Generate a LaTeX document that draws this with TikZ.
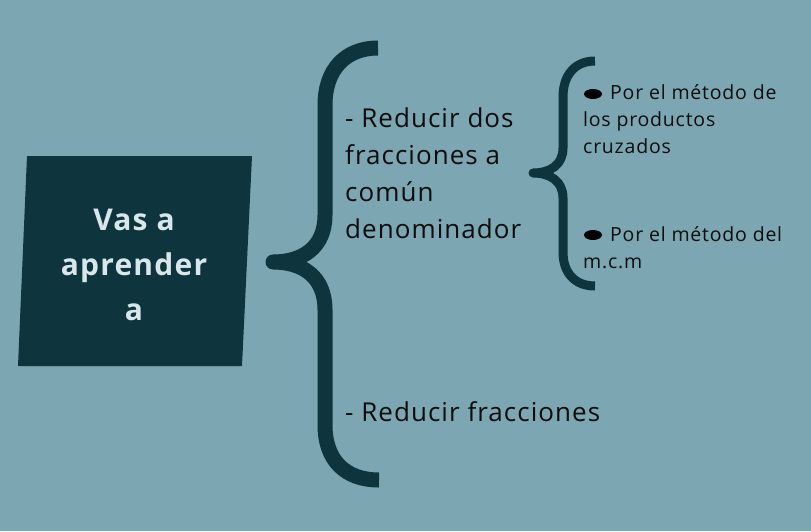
\documentclass[tikz,border=0pt]{standalone}
\usepackage{fontspec}
\setmainfont{Open Sans}[LetterSpace=4]
\newfontfamily\titfont{Open Sans}[LetterSpace=4]
\definecolor{fondo}{HTML}{7BA6B2}
\definecolor{oscuro}{HTML}{0E343D}
\definecolor{claro}{HTML}{D8E7EB}
\begin{document}
\begin{tikzpicture}[x=1pt, y=-1pt, line join=round,
  llave/.style={draw=oscuro, line cap=butt, line join=round},
  titulo/.style={font=\titfont\fontsize{30}{45}\selectfont\bfseries, align=center, inner sep=0pt, text=claro},
  grande/.style={font=\fontsize{26}{37}\selectfont, align=left, inner sep=0pt, text=black!95},
  chico/.style={font=\fontsize{19.5}{27}\selectfont, align=left, inner sep=0pt, text=black!95}]
			\fill[fondo] (0,0) rectangle (811,531);
			\useasboundingbox (0,0) rectangle (811,531);
			\fill[oscuro] (27,156)--(252,156)--(242,366)--(18,366)--cycle;
			\node[titulo, anchor=base] (tit) at (134,320) {Vas a\\aprender\\a};
			\draw[llave, line width=15pt] (378,48) .. controls (345,48) and (325,70) .. (325,105) -- (325,215)
				.. controls (325,248) and (302,262) .. (273,262) .. controls (302,262) and (325,276) .. (325,310)
				-- (325,425) .. controls (325,460) and (345,480) .. (379,480);
			\draw[llave, line width=9pt] (595,61) .. controls (575,61) and (563,75) .. (563,97) -- (563,148)
				.. controls (563,165) and (550,173) .. (533,173) .. controls (550,173) and (563,181) .. (563,198)
				-- (563,252) .. controls (563,273) and (575,286) .. (595,286);
			\node[grande, anchor=base west] (red1) at (345,238) {- Reducir dos\\fracciones a\\común\\denominador};
			\node[grande, anchor=base west] (red2) at (345,421) {- Reducir fracciones};
			\node[chico, anchor=base west] (met1) at (583,153) {\hspace{27pt}Por el método de\\los productos\\cruzados};
			\node[chico, anchor=base west] (met2) at (583,268) {\hspace{27pt}Por el método del\\m.c.m};
			\fill[black] (593,94) ellipse (9 and 5);
			\fill[black] (593,235) ellipse (9 and 5);
\end{tikzpicture}
\end{document}
